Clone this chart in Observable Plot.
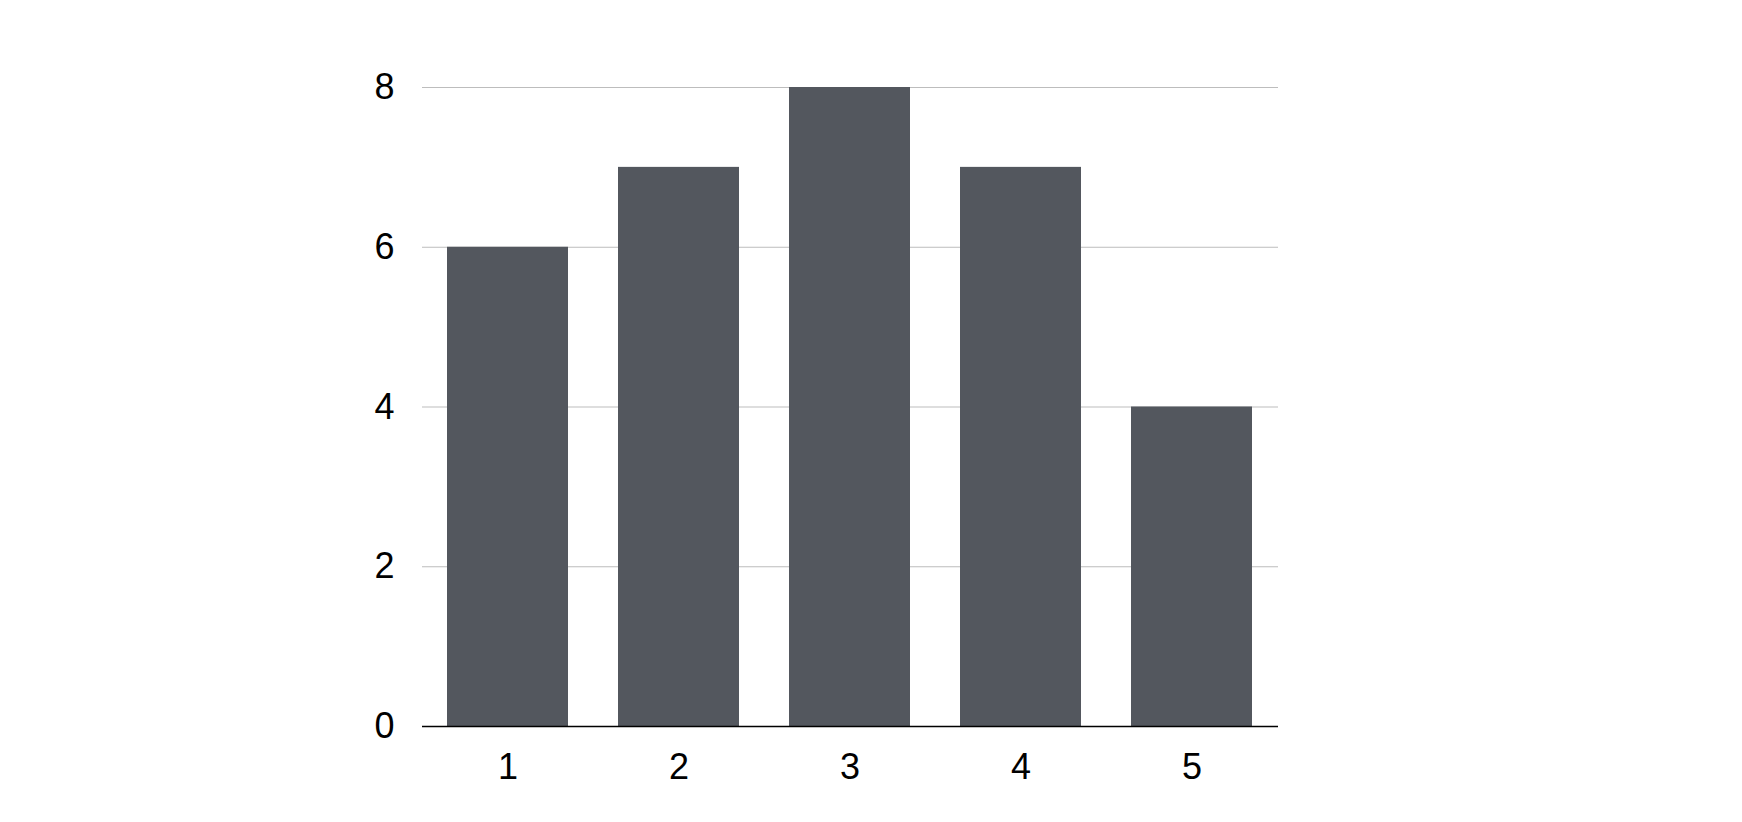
<!DOCTYPE html>
<html>
<head>
<meta charset="utf-8">
<script src="https://cdn.jsdelivr.net/npm/d3@7"></script>
<script src="https://cdn.jsdelivr.net/npm/@observablehq/plot@0.6"></script>
<style>
  html, body { margin: 0; padding: 0; background: #fff; }
  #chart svg { display: block; }
</style>
</head>
<body>
<div id="chart"></div>
<script>
const categories = ["1", "2", "3", "4", "5"];
const values = [6, 7, 8, 7, 4];
const yTicks = [0, 2, 4, 6, 8];

const data = categories.map((c, i) => ({category: c, value: values[i]}));

const chart = Plot.plot({
  width: 1742,
  height: 822,
  marginLeft: 422,
  marginRight: 464,
  marginTop: 87,
  marginBottom: 96,
  style: {fontFamily: "'Liberation Sans', Arial, Helvetica, sans-serif", fontSize: "36px", background: "#fff", color: "#000"},
  x: {domain: categories, paddingInner: 0.29, paddingOuter: 0.145, label: null},
  y: {domain: [0, 8], label: null},
  marks: [
    Plot.ruleY(yTicks.filter(d => d !== 0), {stroke: "#bdbdbd", strokeWidth: 1, strokeOpacity: 1}),
    Plot.barY(data, {x: "category", y: "value", fill: "#53575e"}),
    Plot.ruleY([0], {stroke: "#000", strokeWidth: 1.3}),
    Plot.axisY({ticks: yTicks, tickSize: 0, tickPadding: 28, label: null, fontSize: 36}),
    Plot.axisX({tickSize: 0, tickPadding: 27, label: null, fontSize: 36})
  ]
});
document.getElementById("chart").appendChild(chart);
</script>
</body>
</html>
